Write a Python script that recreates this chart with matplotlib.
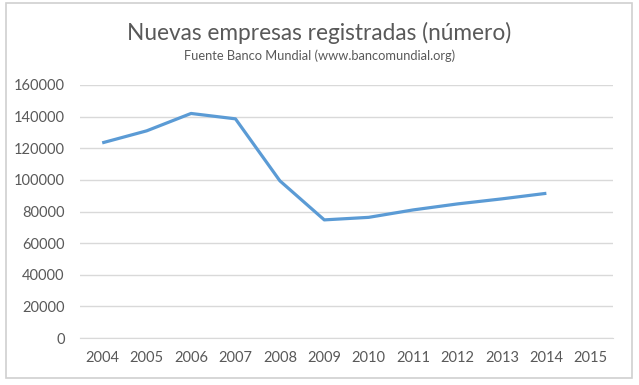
import matplotlib
matplotlib.use("Agg")
import matplotlib.pyplot as plt
from matplotlib.patches import Rectangle

years = ["2004", "2005", "2006", "2007", "2008", "2009", "2010",
         "2011", "2012", "2013", "2014", "2015"]
empresas = [123400, 131000, 142000, 138600, 99400, 74700, 76300,
            81000, 84800, 88000, 91500]
yticks = [0, 20000, 40000, 60000, 80000, 100000, 120000, 140000, 160000]

TEXT = "#595959"
GRID = "#d9d9d9"
LINE = "#5b9bd5"

plt.rcParams["font.family"] = ["Lato", "DejaVu Sans"]

W, H = 639, 385
fig = plt.figure(figsize=(W / 100, H / 100), dpi=100)
fig.patch.set_facecolor("white")

# chart frame
fig.add_artist(Rectangle((6 / W, 1 - 378 / H), 626 / W, 375 / H,
                         transform=fig.transFigure, fill=False,
                         edgecolor="#d0d0d0", linewidth=1.2))

ax = fig.add_axes([80 / W, 1 - 338 / H, 533 / W, 253 / H])
ax.plot(range(len(empresas)), empresas, color=LINE, linewidth=2.3,
        solid_joinstyle="round", solid_capstyle="butt")

ax.set_xlim(-0.5, len(years) - 0.5)
ax.set_ylim(0, 160000)
ax.set_xticks(range(len(years)))
ax.set_xticklabels(years)
ax.set_yticks(yticks)
ax.set_yticklabels([str(v) for v in yticks])
ax.yaxis.grid(True, color=GRID, linewidth=1)
ax.set_axisbelow(True)
for s in ax.spines.values():
    s.set_visible(False)
ax.spines["bottom"].set_visible(True)
ax.spines["bottom"].set_color(GRID)
ax.tick_params(length=0, colors=TEXT, labelsize=10.5)
ax.tick_params(axis="x", pad=9)
ax.tick_params(axis="y", pad=11)

fig.text(0.5, 1 - 33 / H, "Nuevas empresas registradas (número)",
         ha="center", va="center", fontsize=16.3, color=TEXT)
fig.text(0.5, 1 - 56 / H, "Fuente Banco Mundial (www.bancomundial.org)",
         ha="center", va="center", fontsize=9.3, color=TEXT)

fig.savefig("out.png", dpi=100, facecolor="white")
